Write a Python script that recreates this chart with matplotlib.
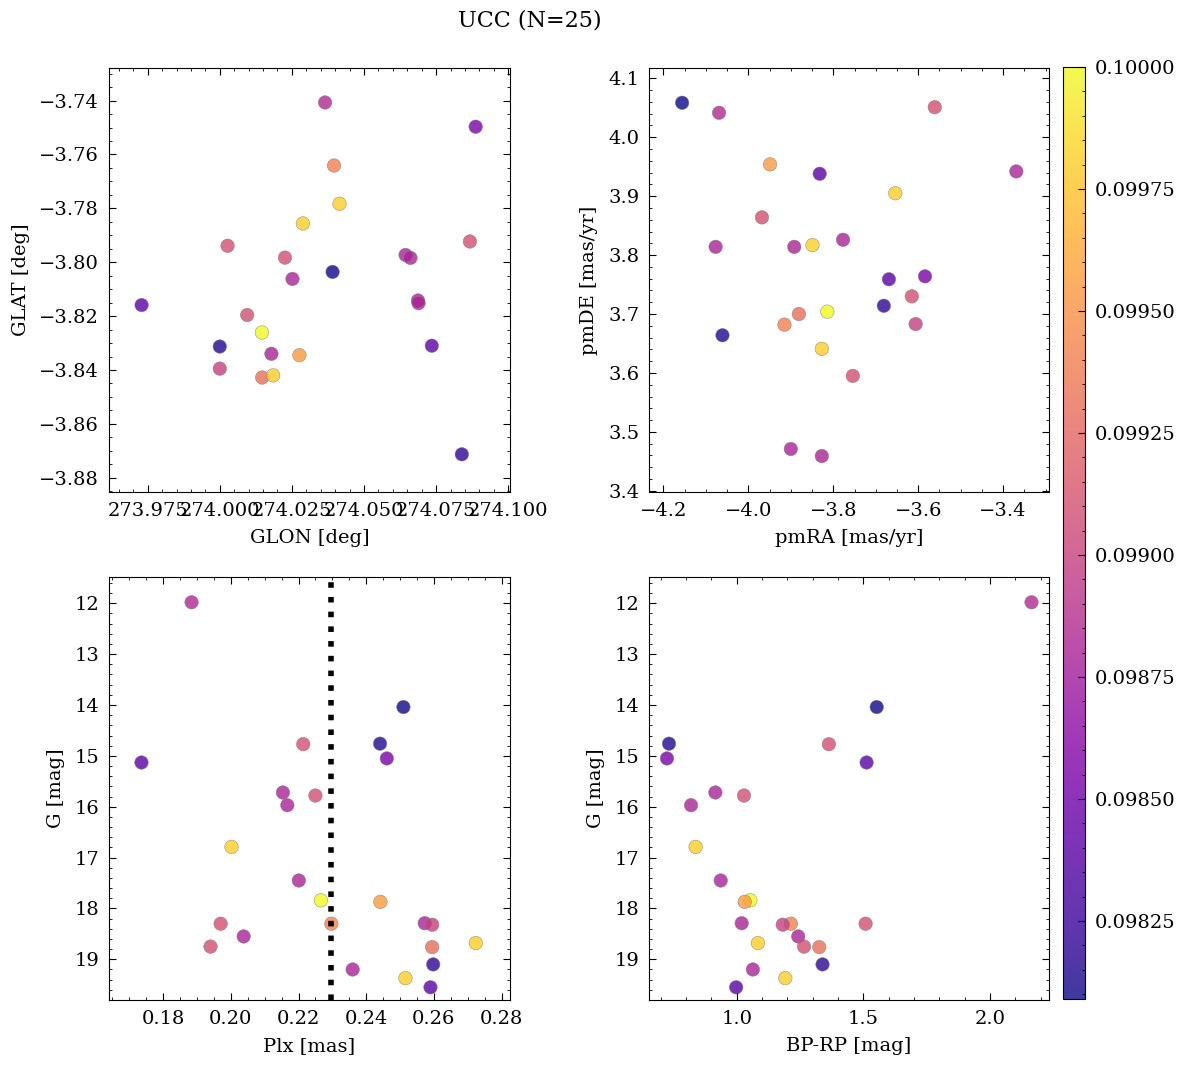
import numpy as np
import matplotlib
matplotlib.use('Agg')
import matplotlib.pyplot as plt
from matplotlib.ticker import FormatStrFormatter, AutoMinorLocator, MultipleLocator, ScalarFormatter

plt.rcParams['font.family'] = 'DejaVu Serif'
plt.rcParams['mathtext.fontset'] = 'dejavuserif'

# --- member data (25 stars) ---
glon = [274.0365, 273.9729, 274.0391, 274.0000, 274.0887, 274.0027, 274.0644, 274.0661,
        274.0226, 274.0415, 274.0252, 274.0146, 274.0276, 274.0396, 274.0867, 274.0687,
        274.0000, 274.0689, 274.0095, 274.0147, 274.0288, 274.0839, 274.0179, 274.0185,
        274.0735]
glat = [-3.7407, -3.8159, -3.8036, -3.8313, -3.7497, -3.7939, -3.7973, -3.7984,
        -3.7983, -3.7783, -3.8062, -3.8261, -3.8345, -3.7641, -3.7923, -3.8142,
        -3.8395, -3.8152, -3.8196, -3.8428, -3.7856, -3.8713, -3.8340, -3.8420,
        -3.8310]
pmra = [-4.069, -3.832, -4.156, -4.061, -3.584, -3.561, -3.369, -4.077,
        -3.968, -3.654, -3.892, -3.814, -3.949, -3.915, -3.615, -3.777,
        -3.606, -3.900, -3.754, -3.881, -3.849, -3.681, -3.827, -3.827,
        -3.669]
pmde = [4.0415, 3.938, 4.0585, 3.664, 3.764, 4.051, 3.942, 3.814,
        3.864, 3.905, 3.814, 3.704, 3.954, 3.682, 3.730, 3.826,
        3.683, 3.471, 3.595, 3.700, 3.817, 3.714, 3.459, 3.641,
        3.759]
plx = [0.1884, 0.1736, 0.2510, 0.2441, 0.2461, 0.2214, 0.2154, 0.2167,
       0.2250, 0.2002, 0.2201, 0.2266, 0.2442, 0.2297, 0.1970, 0.2573,
       0.2595, 0.2038, 0.1940, 0.2595, 0.2724, 0.2598, 0.2360, 0.2516,
       0.2590]
gmag = [11.98, 15.13, 14.04, 14.76, 15.05, 14.77, 15.72, 15.97,
        15.78, 16.79, 17.45, 17.84, 17.87, 18.30, 18.30, 18.29,
        18.32, 18.55, 18.75, 18.76, 18.68, 19.10, 19.20, 19.37,
        19.55]
bp_rp = [2.164, 1.513, 1.553, 0.733, 0.725, 1.364, 0.916, 0.820,
         1.029, 0.838, 0.937, 1.054, 1.032, 1.214, 1.509, 1.020,
         1.182, 1.243, 1.266, 1.326, 1.084, 1.339, 1.064, 1.192,
         0.998]
prob = [0.09885, 0.09840, 0.09809, 0.09815, 0.09855, 0.09910, 0.09880, 0.09880,
        0.09910, 0.09980, 0.09880, 0.10000, 0.09955, 0.09940, 0.09910, 0.09880,
        0.09900, 0.09880, 0.09910, 0.09930, 0.09980, 0.09820, 0.09880, 0.09980,
        0.09840]
plx_line = 0.2297

FS = 14

fig = plt.figure(figsize=(11.85, 10.67), dpi=100)
W, H = 1185, 1067


def add_ax(x0, y0, x1, y1):
    return fig.add_axes([x0 / W, 1 - y1 / H, (x1 - x0) / W, (y1 - y0) / H])


ax1 = add_ax(109, 68, 510, 492)
ax2 = add_ax(649, 68, 1049, 492)
ax3 = add_ax(109, 577, 510, 1000)
ax4 = add_ax(649, 577, 1049, 1000)
cax = add_ax(1063, 67, 1085, 999)

kw = dict(c=prob, cmap='plasma', s=95, alpha=0.8, edgecolors='grey', linewidths=0.4)

sc = ax1.scatter(glon, glat, **kw)
ax1.set_xlim(273.9616, 274.1006)
ax1.set_ylim(-3.8853, -3.7279)
ax1.xaxis.set_major_locator(MultipleLocator(0.025))
ax1.yaxis.set_major_locator(MultipleLocator(0.02))
ax1.xaxis.set_major_formatter(FormatStrFormatter('%.3f'))
ax1.yaxis.set_major_formatter(ScalarFormatter(useOffset=False))
ax1.set_xlabel('GLON [deg]')
ax1.set_ylabel('GLAT [deg]')

ax2.scatter(pmra, pmde, **kw)
ax2.set_xlim(-4.234, -3.292)
ax2.set_ylim(3.398, 4.1175)
ax2.xaxis.set_major_locator(MultipleLocator(0.2))
ax2.yaxis.set_major_locator(MultipleLocator(0.1))
ax2.set_xlabel('pmRA [mas/yr]')
ax2.set_ylabel('pmDE [mas/yr]')

ax3.scatter(plx, gmag, **kw)
ax3.axvline(plx_line, color='k', ls=':', lw=4, zorder=5)
ax3.set_xlim(0.164, 0.2825)
ax3.set_ylim(19.80, 11.483)
ax3.xaxis.set_major_locator(MultipleLocator(0.02))
ax3.set_xlabel('Plx [mas]')
ax3.set_ylabel('G [mag]')

ax4.scatter(bp_rp, gmag, **kw)
ax4.set_xlim(0.654, 2.233)
ax4.set_ylim(19.80, 11.483)
ax4.xaxis.set_major_locator(MultipleLocator(0.5))
ax4.set_xlabel('BP-RP [mag]')
ax4.set_ylabel('G [mag]')

for ax in (ax1, ax2, ax3, ax4):
    ax.yaxis.set_minor_locator(AutoMinorLocator())
    ax.xaxis.set_minor_locator(AutoMinorLocator())
    ax.tick_params(which='both', direction='in', top=True, right=True, labelsize=FS)
    ax.tick_params(which='major', length=5, pad=7)
    ax.tick_params(which='minor', length=2.5)
    ax.xaxis.label.set_size(FS)
    ax.yaxis.label.set_size(FS)
    ax.xaxis.labelpad = 7
    ax.yaxis.labelpad = 7
for ax in (ax3, ax4):
    ax.yaxis.set_major_locator(MultipleLocator(1))

cb = fig.colorbar(sc, cax=cax)
cb.set_ticks([0.09825, 0.0985, 0.09875, 0.099, 0.09925, 0.0995, 0.09975, 0.1])
cb.ax.yaxis.set_major_formatter(FormatStrFormatter('%.5f'))
cb.ax.yaxis.set_minor_locator(AutoMinorLocator(5))
cb.ax.tick_params(which='both', direction='in', labelsize=FS)
cb.ax.tick_params(which='major', length=5, pad=7)
cb.ax.tick_params(which='minor', length=2.5)

fig.suptitle('UCC (N=25)', x=530 / W, y=1 - 20 / H, va='center', fontsize=16)

fig.savefig('out.png', dpi=100)
